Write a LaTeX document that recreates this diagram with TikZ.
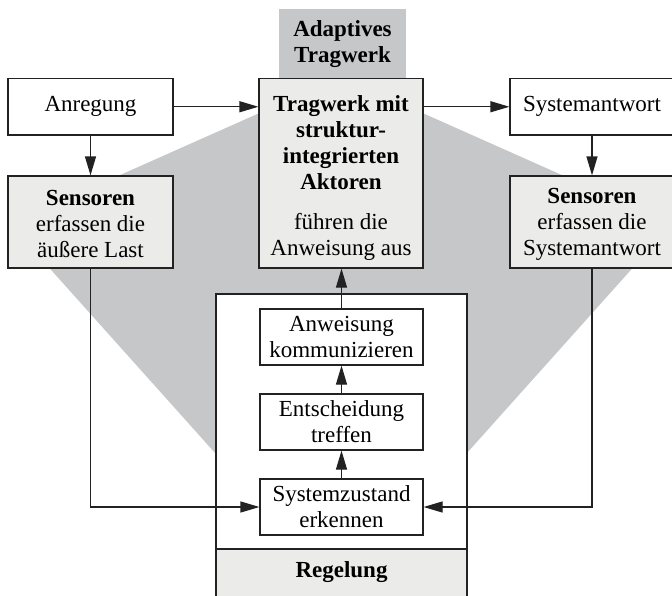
\documentclass[tikz,border=0pt]{standalone}
\usepackage{fontspec}
\setmainfont{Liberation Serif}
\usetikzlibrary{arrows.meta}

\definecolor{hexgray}{HTML}{C6C7C8}
\definecolor{boxgray}{HTML}{EBECEA}
\definecolor{linecol}{HTML}{222222}

\tikzset{
  base/.style={rectangle, inner sep=0pt, align=center,
    font=\fontsize{23}{26}\selectfont},
  plainbox/.style={base, draw=linecol, line width=1.2pt, fill=white},
  greybox/.style={base, draw=linecol, line width=1.2pt, fill=boxgray},
  flow/.style={draw=linecol, line width=1.2pt,
    -{Triangle[length=19pt,width=11pt]}},
}

\begin{document}
\begin{tikzpicture}[x=1pt, y=-1pt]
\useasboundingbox (0,0) rectangle (672,595);
\begin{scope}
\clip (0,0) rectangle (672,595);

% large grey backdrop of the adaptive structure
\fill[hexgray] (300,95) -- (10,224) -- (250,492) -- (432,492) -- (672,224) -- (382,95) -- cycle;

% title tab
\node[base, fill=hexgray, minimum width=127pt, minimum height=70pt]
  (adapt) at (342.5,44) {\textbf{Adaptives}\\\textbf{Tragwerk}};

% top row
\node[plainbox, minimum width=165pt, minimum height=56.5pt]
  (anr) at (90.5,106.75) {Anregung};
\node[greybox, minimum width=164pt, minimum height=189.5pt]
  (tw) at (341,173.25) {\rule{0pt}{26pt}\textbf{Tragwerk mit}\\\textbf{struktur-}\\\textbf{integrierten}\\\textbf{Aktoren}\\[14pt]führen die\\Anweisung aus};
\node[plainbox, minimum width=164pt, minimum height=56.5pt]
  (sysa) at (592,106.75) {Systemantwort};

% sensor boxes
\node[greybox, minimum width=165pt, minimum height=92pt]
  (sensL) at (90.5,222) {\rule{0pt}{19pt}\textbf{Sensoren}\\erfassen die\\äußere Last};
\node[greybox, minimum width=164pt, minimum height=92pt]
  (sensR) at (592,222) {\rule{0pt}{19pt}\textbf{Sensoren}\\erfassen die\\Systemantwort};

% control frame
\node[plainbox, minimum width=251pt, minimum height=255pt]
  (ctrl) at (341.5,421.5) {};
\node[greybox, minimum width=251pt, minimum height=70pt]
  (reg) at (341.5,584) {};
\node[base] (reglabel) at (341.5,572) {\textbf{Regelung}};

% control steps
\node[plainbox, minimum width=163pt, minimum height=56pt]
  (anw) at (341.5,337) {Anweisung\\kommunizieren};
\node[plainbox, minimum width=163pt, minimum height=56pt]
  (ent) at (341.5,422) {Entscheidung\\treffen};
\node[plainbox, minimum width=163pt, minimum height=56pt]
  (sz) at (341.5,507) {Systemzustand\\erkennen};

% connectors
\draw[flow] (anr.east) -- (anr.east -| tw.west);
\draw[flow] (sysa.west -| tw.east) -- (sysa.west);
\draw[flow] (anr.south) -- (sensL.north);
\draw[flow] (sysa.south) -- (sensR.north);
\draw[flow] (sensL.south) |- (sz.west);
\draw[flow] (sensR.south) |- (sz.east);
\draw[flow] (sz.north) -- (ent.south);
\draw[flow] (ent.north) -- (anw.south);
\draw[flow] (anw.north) -- (anw.north |- tw.south);
\end{scope}
\end{tikzpicture}
\end{document}
